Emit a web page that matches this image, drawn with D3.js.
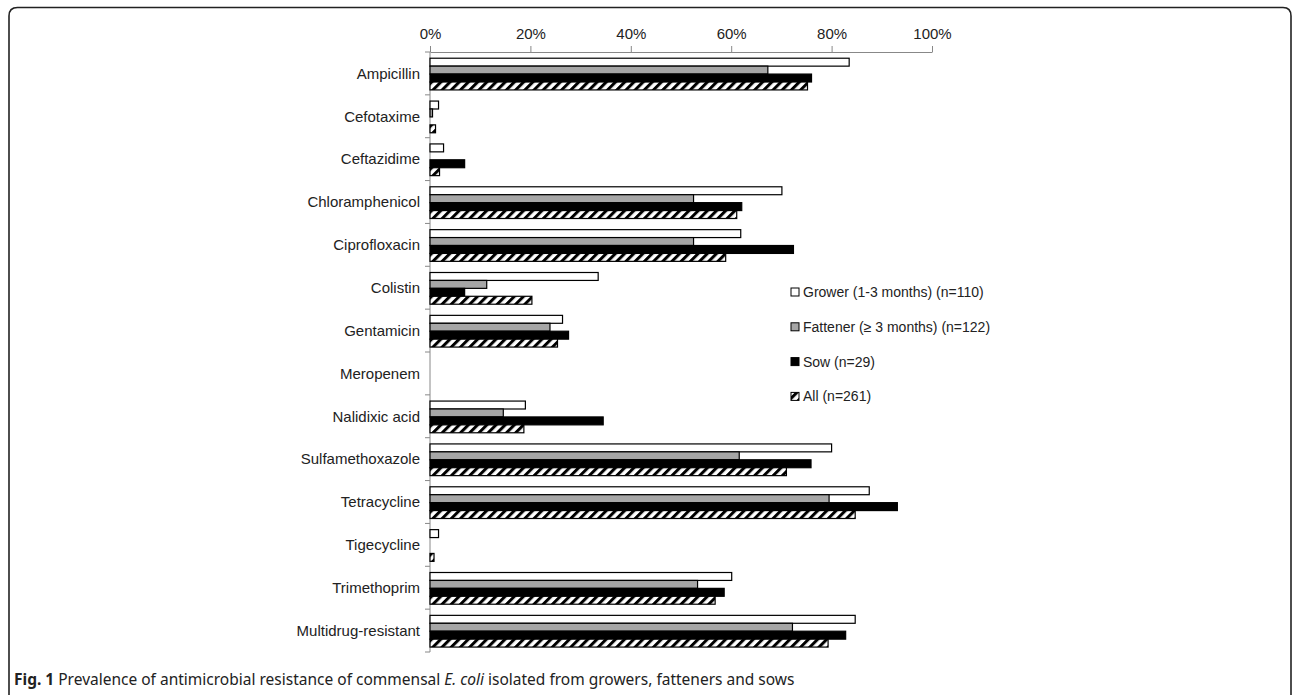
<!DOCTYPE html>
<html>
<head>
<meta charset="utf-8">
<script src="https://cdn.jsdelivr.net/npm/d3@7"></script>
<style>
  body { margin: 0; background: #fff; }
  svg { display: block; }
</style>
</head>
<body>
<div id="chart"></div>
<script>
// antimicrobial resistance prevalence (%) by pig group
var drugs = ['Ampicillin', 'Cefotaxime', 'Ceftazidime', 'Chloramphenicol',
  'Ciprofloxacin', 'Colistin', 'Gentamicin', 'Meropenem', 'Nalidixic acid',
  'Sulfamethoxazole', 'Tetracycline', 'Tigecycline', 'Trimethoprim',
  'Multidrug-resistant'];

var groups = ['grower', 'fattener', 'sow', 'all'];
var groupLabels = ['Grower (1-3 months) (n=110)', 'Fattener (\u2265 3 months) (n=122)',
  'Sow (n=29)', 'All (n=261)'];

var grower   = [83.5, 1.7, 2.7, 70.1, 61.9, 33.5, 26.4, 0, 19.0, 80.0, 87.5, 1.7, 60.1, 84.7];
var fattener = [67.3, 0.5, 0, 52.5, 52.5, 11.3, 23.9, 0, 14.6, 61.6, 79.5, 0, 53.3, 72.2];
var sow      = [76.0, 0, 6.9, 62.1, 72.4, 6.9, 27.6, 0, 34.5, 75.9, 93.1, 0, 58.6, 82.8];
var all      = [75.2, 1.1, 1.9, 61.1, 58.9, 20.3, 25.4, 0, 18.7, 71.0, 84.7, 0.8, 56.8, 79.3];

var xTicks = [0, 20, 40, 60, 80, 100];

var width = 1292, height = 695;
var plot = {left: 430, right: 932, top: 52, bottom: 652};
var labelFont = "'Liberation Sans', Arial, sans-serif";

var svg = d3.select('#chart').append('svg')
  .attr('width', width)
  .attr('height', height);

// hatch pattern for the "All" series
var defs = svg.append('defs');
var pat = defs.append('pattern')
  .attr('id', 'hatch')
  .attr('patternUnits', 'userSpaceOnUse')
  .attr('width', 6.5)
  .attr('height', 6.5)
  .attr('patternTransform', 'rotate(45)');
pat.append('rect').attr('width', 6.5).attr('height', 6.5).attr('fill', '#fff');
pat.append('rect').attr('x', 0).attr('width', 3).attr('height', 6.5).attr('fill', '#000');

var fills = {grower: '#fff', fattener: '#a6a6a6', sow: '#000', all: 'url(#hatch)'};

// frame around the figure
svg.append('path')
  .attr('d', 'M9,695 L9,16 Q9,7.5 17.5,7.5 L1283,7.5 Q1291,7.5 1291,16 L1291,695')
  .attr('fill', 'none')
  .attr('stroke', '#222')
  .attr('stroke-width', 1.6);

var x = d3.scaleLinear().domain([0, 100]).range([plot.left, plot.right]);
var y = d3.scaleBand().domain(drugs).range([plot.top, plot.bottom]);
var yInner = d3.scaleBand().domain(groups)
  .range([y.bandwidth() * 0.145, y.bandwidth() * 0.885]);

var table = drugs.map(function(d, i) {
  return {drug: d, values: [
    {key: 'grower', v: grower[i]},
    {key: 'fattener', v: fattener[i]},
    {key: 'sow', v: sow[i]},
    {key: 'all', v: all[i]}
  ]};
});

// top axis
var xAxis = svg.append('g')
  .attr('transform', 'translate(0,' + plot.top + ')')
  .call(d3.axisTop(x).tickValues(xTicks).tickSize(6).tickSizeOuter(0)
    .tickFormat(function(d) { return d + '%'; }));
xAxis.select('.domain').attr('stroke', '#888');
xAxis.selectAll('.tick line').attr('stroke', '#888');
xAxis.selectAll('.tick text')
  .attr('font-family', labelFont)
  .attr('font-size', '15px')
  .attr('fill', '#222')
  .attr('dy', '-0.3em');

// left axis, ticks at the band boundaries
var yAxisG = svg.append('g');
yAxisG.append('line')
  .attr('x1', plot.left).attr('x2', plot.left)
  .attr('y1', plot.top).attr('y2', plot.bottom)
  .attr('stroke', '#888');
yAxisG.selectAll('line.bt')
  .data(drugs.concat(['end']))
  .enter()
  .append('line')
  .attr('class', 'bt')
  .attr('x1', plot.left - 5).attr('x2', plot.left)
  .attr('y1', function(d, i) { return plot.top + i * y.step(); })
  .attr('y2', function(d, i) { return plot.top + i * y.step(); })
  .attr('stroke', '#888');

yAxisG.selectAll('text')
  .data(drugs)
  .enter()
  .append('text')
  .attr('x', plot.left - 10)
  .attr('y', function(d) { return y(d) + y.bandwidth() / 2; })
  .attr('dy', '0.35em')
  .attr('text-anchor', 'end')
  .attr('font-family', labelFont)
  .attr('font-size', '15px')
  .attr('fill', '#222')
  .text(function(d) { return d; });

// bars
var rows = svg.selectAll('g.row')
  .data(table)
  .enter()
  .append('g')
  .attr('class', 'row')
  .attr('transform', function(d) { return 'translate(0,' + y(d.drug) + ')'; });

rows.selectAll('rect')
  .data(function(d) { return d.values.filter(function(v) { return v.v > 0; }); })
  .enter()
  .append('rect')
  .attr('x', x(0))
  .attr('y', function(d) { return yInner(d.key); })
  .attr('width', function(d) { return x(d.v) - x(0); })
  .attr('height', yInner.bandwidth())
  .attr('fill', function(d) { return fills[d.key]; })
  .attr('stroke', '#000')
  .attr('stroke-width', 1.2);

// legend
var legend = svg.append('g').attr('transform', 'translate(791,292)');
var items = legend.selectAll('g')
  .data(groups)
  .enter()
  .append('g')
  .attr('transform', function(d, i) { return 'translate(0,' + (i * 34.8) + ')'; });
items.append('rect')
  .attr('x', 0).attr('y', -4)
  .attr('width', 8).attr('height', 8)
  .attr('fill', function(d) { return fills[d]; })
  .attr('stroke', '#000')
  .attr('stroke-width', 1);
items.append('text')
  .attr('x', 12)
  .attr('dy', '0.35em')
  .attr('font-family', labelFont)
  .attr('font-size', '14px')
  .attr('fill', '#222')
  .text(function(d, i) { return groupLabels[i]; });

// caption
var cap = svg.append('text')
  .attr('x', 14)
  .attr('y', 685)
  .attr('font-family', 'Noto Sans, sans-serif')
  .attr('font-size', '15.5px')
  .attr('fill', '#222');
cap.append('tspan').attr('font-weight', 'bold').text('Fig. 1');
cap.append('tspan').text(' Prevalence of antimicrobial resistance of commensal ');
cap.append('tspan').attr('font-style', 'italic').text('E. coli');
cap.append('tspan').text(' isolated from growers, fatteners and sows');
</script>
</body>
</html>
